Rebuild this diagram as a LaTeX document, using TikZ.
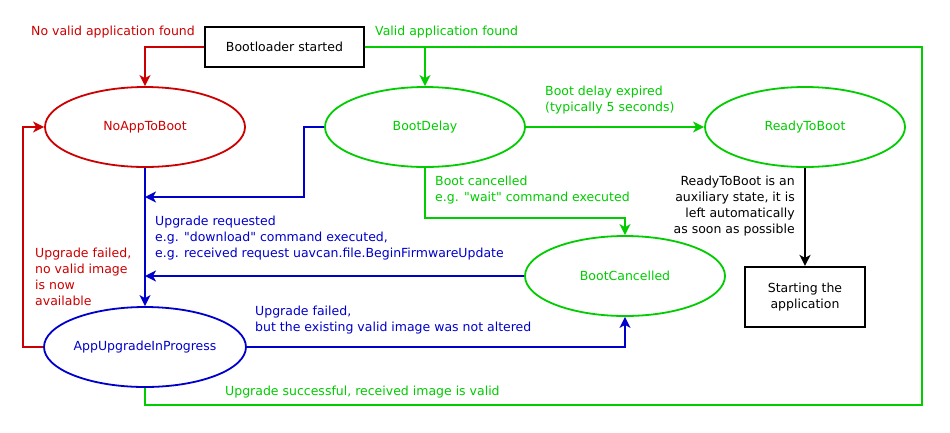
\documentclass[tikz,border=0pt]{standalone}
\usepackage{fontspec}
\setmainfont{DejaVu Sans}[Ligatures=TeXOff]
\usetikzlibrary{arrows.meta,shapes.geometric}
\definecolor{cred}{RGB}{204,0,0}
\definecolor{cgreen}{RGB}{0,204,0}
\definecolor{cblue}{RGB}{0,0,204}
\begin{document}
\begin{tikzpicture}[x=1pt,y=-1pt,font=\fontsize{12.5}{16}\selectfont,
  state/.style={ellipse,draw,line width=1.8pt,minimum width=200pt,minimum height=80pt,inner sep=0pt},
  boxn/.style={rectangle,draw=black,line width=2.2pt,inner sep=0pt,align=center},
  wire/.style={line width=1.8pt},
  conn/.style={wire,-{Stealth[length=11pt,width=11pt,inset=3pt]}},
  lbl/.style={inner sep=0pt,align=left,anchor=west}]
\useasboundingbox (0,0) rectangle (950,432);
% nodes
\node[boxn,minimum width=159pt,minimum height=40pt] (start) at (284.5,47) {Bootloader started};
\node[state,draw=cred,text=cred] (noapp) at (145,127) {NoAppToBoot};
\node[state,draw=cgreen,text=cgreen] (delay) at (425,127) {BootDelay};
\node[state,draw=cgreen,text=cgreen] (ready) at (805,127) {ReadyToBoot};
\node[state,draw=cgreen,text=cgreen] (cancel) at (625,276) {BootCancelled};
\node[state,draw=cblue,text=cblue] (upg) at (145,347) {AppUpgradeInProgress};
\node[boxn,minimum width=120pt,minimum height=60pt] (app) at (805,297) {Starting the\\application};
\coordinate (cr) at (922,405);
\coordinate (j1) at (145,197);
% connectors
\draw[conn,cred] (start.west) -| (noapp.north);
\draw[conn,cgreen] (start.east) -| (delay.north);
\draw[wire,cgreen] (start.east) -| (cr) -| (upg.south);
\draw[conn,cgreen] (delay.east) -- (ready.west);
\draw[conn,cgreen] (delay.south) -- ++(0,50) -| (cancel.north);
\draw[conn,black] (ready.south) -- (app.north);
\draw[conn,cblue] (noapp.south) -- (upg.north);
\draw[conn,cblue] (delay.west) -- ++(-20,0) |- (j1);
\draw[conn,cblue] (cancel.west) -- (cancel.west -| noapp.south);
\draw[conn,cred] (upg.west) -- ++(-20,0) |- (noapp.west);
\draw[conn,cblue] (upg.east) -| (cancel.south);
% labels
\node[lbl,anchor=east,text=cred] (l1) at (195,32) {No valid application found};
\node[lbl,text=cgreen] (l2) at (375,32) {Valid application found};
\node[lbl,text=cgreen] (l3) at (545,100) {Boot delay expired\\(typically 5 seconds)};
\node[lbl,text=cgreen] (l4) at (435,190) {Boot cancelled\\e.g. "wait" command executed};
\node[lbl,anchor=east,align=right,text=black] (l5) at (795,206) {ReadyToBoot is an\\auxiliary state, it is\\left automatically\\as soon as possible};
\node[lbl,text=cblue] (l6) at (155,238) {Upgrade requested\\e.g. "download" command executed,\\e.g. received request uavcan.file.BeginFirmwareUpdate};
\node[lbl,text=cred] (l7) at (35,277) {Upgrade failed,\\no valid image\\is now\\available};
\node[lbl,text=cblue] (l8) at (255,320) {Upgrade failed,\\but the existing valid image was not altered};
\node[lbl,text=cgreen] (l9) at (225,392) {Upgrade successful, received image is valid};
\end{tikzpicture}
\end{document}
